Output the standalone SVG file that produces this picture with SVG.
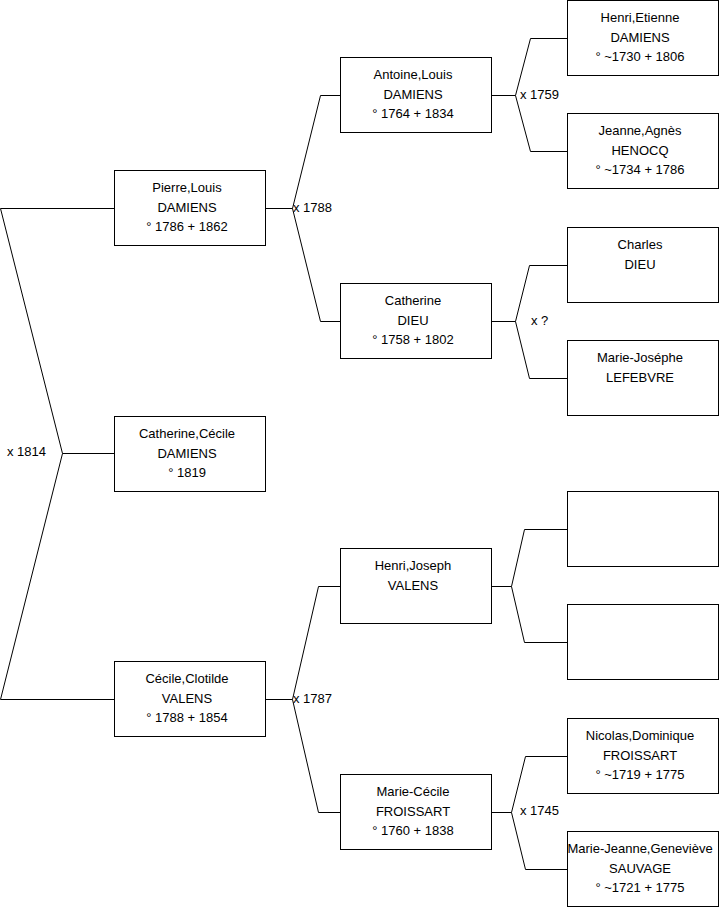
<svg xmlns="http://www.w3.org/2000/svg" width="719" height="908" viewBox="0 0 719 908">
<style>
rect.b{fill:#fff;stroke:#000;stroke-width:1}
text{font-family:"Liberation Sans",Arial,sans-serif;font-size:13px;fill:#000}
text.c{text-anchor:middle}
.conn path{fill:none;stroke:#000;stroke-width:1}
</style>
<rect width="719" height="908" fill="#fff"/>
<g class="conn" id="connectors">
<path d="M0.5 208.5H114M0.5 208.5L62.5 453.5L0.5 699.5H114M62.5 453.5H114"/>
<path d="M265.5 208.5H292.5L320.5 95.5H340M292.5 208.5L320.5 321.5H340"/>
<path d="M265.5 699.5H292.5L318.5 586.5H340M292.5 699.5L318.5 812.5H340"/>
<path d="M491.5 95.5H515.5L530.5 38.5H567M515.5 95.5L530.5 151.5H567"/>
<path d="M491.5 321.5H515.5L529.5 265.5H567M515.5 321.5L529.5 378.5H567"/>
<path d="M491.5 586.5H511.5L524.5 529.5H567M511.5 586.5L524.5 642.5H567"/>
<path d="M491.5 812.5H511.5L525.5 756.5H567M511.5 812.5L525.5 869.5H567"/>
<text x="7" y="456">x 1814</text>
<text x="293" y="212">x 1788</text>
<text x="293" y="703">x 1787</text>
<text x="520" y="99">x 1759</text>
<text x="531" y="325">x ?</text>
<text x="520" y="815">x 1745</text>
</g>
<g id="pierre-louis"><rect class="b" x="114.5" y="170.5" width="151" height="75"/>
<text class="c" x="187" y="191.5">Pierre,Louis</text><text class="c" x="187" y="211.5">DAMIENS</text><text class="c" x="187" y="231">° 1786 + 1862</text></g>
<g id="catherine-cecile"><rect class="b" x="114.5" y="416.5" width="151" height="75"/>
<text class="c" x="187" y="437.5">Catherine,Cécile</text><text class="c" x="187" y="457.5">DAMIENS</text><text class="c" x="187" y="477">° 1819</text></g>
<g id="cecile-clotilde"><rect class="b" x="114.5" y="661.5" width="151" height="75"/>
<text class="c" x="187" y="682.5">Cécile,Clotilde</text><text class="c" x="187" y="702.5">VALENS</text><text class="c" x="187" y="722">° 1788 + 1854</text></g>
<g id="antoine-louis"><rect class="b" x="340.5" y="57.5" width="151" height="75"/>
<text class="c" x="413" y="78.5">Antoine,Louis</text><text class="c" x="413" y="98.5">DAMIENS</text><text class="c" x="413" y="118">° 1764 + 1834</text></g>
<g id="catherine-dieu"><rect class="b" x="340.5" y="283.5" width="151" height="75"/>
<text class="c" x="413" y="304.5">Catherine</text><text class="c" x="413" y="324.5">DIEU</text><text class="c" x="413" y="344">° 1758 + 1802</text></g>
<g id="henri-joseph"><rect class="b" x="340.5" y="548.5" width="151" height="75"/>
<text class="c" x="413" y="569.5">Henri,Joseph</text><text class="c" x="413" y="589.5">VALENS</text></g>
<g id="marie-cecile"><rect class="b" x="340.5" y="774.5" width="151" height="75"/>
<text class="c" x="413" y="795.5">Marie-Cécile</text><text class="c" x="413" y="815.5">FROISSART</text><text class="c" x="413" y="835">° 1760 + 1838</text></g>
<g id="henri-etienne"><rect class="b" x="567.5" y="0.5" width="151" height="75"/>
<text class="c" x="640" y="21.5">Henri,Etienne</text><text class="c" x="640" y="41.5">DAMIENS</text><text class="c" x="640" y="61">° ~1730 + 1806</text></g>
<g id="jeanne-agnes"><rect class="b" x="567.5" y="113.5" width="151" height="75"/>
<text class="c" x="640" y="134.5">Jeanne,Agnès</text><text class="c" x="640" y="154.5">HENOCQ</text><text class="c" x="640" y="174">° ~1734 + 1786</text></g>
<g id="charles-dieu"><rect class="b" x="567.5" y="227.5" width="151" height="75"/>
<text class="c" x="640" y="248.5">Charles</text><text class="c" x="640" y="268.5">DIEU</text></g>
<g id="marie-josephe"><rect class="b" x="567.5" y="340.5" width="151" height="75"/>
<text class="c" x="640" y="361.5">Marie-Joséphe</text><text class="c" x="640" y="381.5">LEFEBVRE</text></g>
<g id="empty-1"><rect class="b" x="567.5" y="491.5" width="151" height="75"/></g>
<g id="empty-2"><rect class="b" x="567.5" y="604.5" width="151" height="75"/></g>
<g id="nicolas-dominique"><rect class="b" x="567.5" y="718.5" width="151" height="75"/>
<text class="c" x="640" y="739.5">Nicolas,Dominique</text><text class="c" x="640" y="759.5">FROISSART</text><text class="c" x="640" y="779">° ~1719 + 1775</text></g>
<g id="marie-jeanne"><rect class="b" x="567.5" y="831.5" width="151" height="75"/>
<text class="c" x="640" y="852.5">Marie-Jeanne,Geneviève</text><text class="c" x="640" y="872.5">SAUVAGE</text><text class="c" x="640" y="892">° ~1721 + 1775</text></g>
</svg>
